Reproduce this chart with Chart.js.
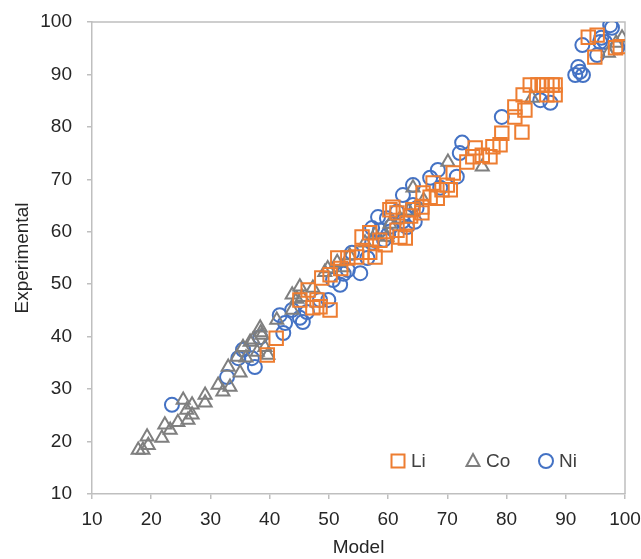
<!DOCTYPE html>
<html>
<head>
<meta charset="utf-8">
<script src="https://cdn.jsdelivr.net/npm/chart.js@4/dist/chart.umd.min.js"></script>
<style>
  html, body { margin: 0; padding: 0; background: #fff; }
  #wrap { width: 641px; height: 559px; }
</style>
</head>
<body>
<div id="wrap"><canvas id="scatter"></canvas></div>
<script>
// model vs experimental values, one pair of arrays per metal
var liModel = [39.6, 41.1, 45.1, 46.5, 47.3, 48.0, 48.5, 48.8, 50.2, 50.2, 51.5, 52.0, 53.2, 54.7, 55.6, 55.6, 56.9, 56.9, 57.8, 58.6, 59.5, 60.3, 60.8, 61.5, 61.5, 62.0, 62.9, 63.2, 63.8, 64.2, 65.7, 65.7, 65.9, 67.1, 68.3, 67.6, 69.1, 70.5, 70.0, 71.0, 73.3, 74.3, 74.7, 75.9, 77.2, 77.7, 78.9, 79.2, 82.6, 81.4, 81.4, 83.1, 82.8, 84.0, 85.3, 86.0, 86.8, 87.7, 88.2, 88.2, 86.8, 93.8, 95.3, 94.9, 99.2, 98.4];
var liExp   = [36.5, 39.7, 47.0, 48.9, 45.5, 47.0, 45.7, 51.2, 51.8, 45.1, 55.0, 53.0, 55.0, 55.2, 56.1, 59.0, 56.1, 59.8, 55.2, 58.4, 57.5, 64.2, 64.7, 63.6, 60.3, 59.0, 58.8, 61.7, 63.0, 64.2, 64.7, 63.6, 67.4, 66.6, 66.4, 69.3, 68.0, 68.0, 68.9, 71.2, 73.3, 74.3, 76.0, 74.6, 74.3, 76.2, 76.6, 78.8, 79.0, 81.9, 83.8, 83.2, 86.1, 88.0, 88.0, 88.0, 88.0, 88.0, 88.0, 86.1, 86.1, 97.1, 97.5, 93.3, 95.3, 95.1];

var coModel = [17.8, 18.6, 19.3, 19.5, 21.8, 22.3, 23.2, 24.5, 25.4, 26.0, 26.2, 26.9, 26.9, 29.1, 29.1, 31.3, 32.1, 33.3, 33.0, 35.0, 34.5, 35.5, 36.0, 36.7, 37.9, 37.2, 38.4, 38.7, 38.5, 39.2, 39.7, 41.2, 43.8, 43.8, 44.6, 45.1, 45.5, 47.3, 49.3, 49.8, 51.4, 52.3, 53.5, 56.1, 57.8, 59.8, 60.3, 62.0, 63.5, 64.2, 66.0, 70.1, 75.9, 84.3, 97.2, 98.5, 99.5];
var coExp   = [18.4, 18.4, 20.9, 19.3, 20.7, 23.2, 22.2, 23.7, 27.9, 26.0, 24.1, 27.0, 25.1, 28.9, 27.4, 30.8, 29.5, 30.4, 34.2, 33.1, 36.1, 38.0, 36.0, 39.0, 37.1, 39.4, 41.7, 40.3, 40.8, 38.0, 36.5, 43.2, 45.1, 48.0, 47.2, 49.5, 47.5, 49.3, 52.3, 53.0, 54.2, 53.2, 55.5, 57.9, 59.5, 59.0, 61.5, 62.5, 64.0, 68.4, 66.0, 73.3, 72.4, 85.5, 94.1, 96.0, 97.0];

var niModel = [23.5, 32.8, 34.7, 35.5, 37.0, 37.5, 38.4, 41.7, 42.3, 42.6, 43.8, 45.1, 45.6, 46.3, 48.5, 49.9, 50.7, 51.9, 52.5, 53.2, 53.9, 55.3, 56.5, 57.3, 57.3, 58.3, 58.6, 59.3, 59.8, 60.0, 60.5, 61.5, 62.5, 62.5, 63.2, 64.2, 64.2, 64.5, 64.8, 67.1, 68.4, 68.8, 71.6, 72.1, 72.5, 79.2, 85.7, 87.4, 91.6, 92.1, 92.4, 92.9, 92.8, 95.3, 95.8, 96.6, 97.5, 97.8, 98.7, 96.0];
var niExp   = [27.0, 32.3, 35.9, 37.5, 35.9, 34.2, 39.9, 44.1, 40.7, 42.6, 45.1, 43.6, 42.8, 44.7, 47.0, 47.0, 50.8, 49.9, 52.0, 52.7, 56.0, 52.1, 55.0, 57.9, 60.7, 62.8, 60.3, 58.5, 62.6, 59.5, 61.0, 63.8, 67.0, 62.0, 60.9, 65.1, 68.9, 61.9, 64.5, 70.3, 71.8, 68.4, 70.5, 75.0, 77.0, 81.9, 85.1, 84.6, 89.9, 91.4, 90.5, 89.9, 95.6, 93.7, 96.2, 96.2, 99.4, 98.9, 95.2, 97.0];

var axisTicks = [10, 20, 30, 40, 50, 60, 70, 80, 90, 100];

function pairs(xs, ys) {
  return xs.map(function(x, i) { return { x: x, y: ys[i] }; });
}

var FONT = "'Liberation Sans', Arial, sans-serif";
var FSIZE = 19;
var AXIS = '#bfbfbf';

// excel-style legend sitting inside the bottom right of the plot
var innerLegend = {
  id: 'innerLegend',
  afterDatasetsDraw: function(chart) {
    var ctx = chart.ctx, area = chart.chartArea;
    var y = area.bottom - 33;
    var items = [
      { dx: -227, label: 'Li', ds: 0 },
      { dx: -152, label: 'Co', ds: 1 },
      { dx: -79,  label: 'Ni', ds: 2 }
    ];
    ctx.save();
    items.forEach(function(it) {
      var ds = chart.data.datasets[it.ds];
      var x = area.right + it.dx;
      ctx.strokeStyle = ds.borderColor;
      ctx.lineWidth = ds.borderWidth;
      ctx.beginPath();
      if (ds.pointStyle === 'rect') {
        ctx.rect(x - 6.5, y - 6.5, 13, 13);
      } else if (ds.pointStyle === 'triangle') {
        ctx.moveTo(x, y - 7);
        ctx.lineTo(x + 6.5, y + 5);
        ctx.lineTo(x - 6.5, y + 5);
        ctx.closePath();
      } else {
        ctx.arc(x, y, 7, 0, Math.PI * 2);
      }
      ctx.stroke();
      ctx.fillStyle = '#404040';
      ctx.font = FSIZE + 'px ' + FONT;
      ctx.textBaseline = 'middle';
      ctx.textAlign = 'left';
      ctx.fillText(it.label, x + 13, y + 1);
    });
    ctx.restore();
  }
};

// thin frame along the top and right of the plot
var plotFrame = {
  id: 'plotFrame',
  beforeDatasetsDraw: function(chart) {
    var ctx = chart.ctx, a = chart.chartArea;
    ctx.save();
    ctx.strokeStyle = AXIS;
    ctx.lineWidth = 1.5;
    ctx.beginPath();
    ctx.moveTo(a.left, a.top);
    ctx.lineTo(a.right, a.top);
    ctx.lineTo(a.right, a.bottom);
    ctx.stroke();
    ctx.restore();
  }
};

function axis(title) {
  return {
    type: 'linear',
    min: 10,
    max: 100,
    afterBuildTicks: function(scale) {
      scale.ticks = axisTicks.map(function(v) { return { value: v }; });
    },
    grid: { drawOnChartArea: false, drawTicks: true, tickLength: 5, color: AXIS, lineWidth: 1.5 },
    border: { color: AXIS, width: 1.5 },
    ticks: { color: '#262626', font: { family: FONT, size: FSIZE }, padding: 9, maxRotation: 0 },
    title: { display: true, text: title, color: '#262626', font: { family: FONT, size: FSIZE }, padding: { top: 7, bottom: 0 } }
  };
}

// fixed axis bands so the plot box lands where it should
var xScale = axis('Model');
xScale.afterFit = function(scale) {
  scale.height = 65;
  scale.paddingLeft = 0;
  scale.paddingRight = 0;
};
var yScale = axis('Experimental');
yScale.ticks.padding = 15;
yScale.title.padding = { top: 11, bottom: 0 };
yScale.afterFit = function(scale) {
  scale.width = 92;
  scale.paddingTop = 0;
  scale.paddingBottom = 0;
};

new Chart(document.getElementById('scatter'), {
  type: 'scatter',
  data: {
    datasets: [
      { label: 'Li', data: pairs(liModel, liExp), pointStyle: 'rect', pointRadius: 9.5,
        borderColor: '#ED7D31', backgroundColor: 'rgba(0,0,0,0)', borderWidth: 2 },
      { label: 'Co', data: pairs(coModel, coExp), pointStyle: 'triangle', pointRadius: 7.5,
        borderColor: '#7F7F7F', backgroundColor: 'rgba(0,0,0,0)', borderWidth: 2 },
      { label: 'Ni', data: pairs(niModel, niExp), pointStyle: 'circle', pointRadius: 7,
        borderColor: '#4472C4', backgroundColor: 'rgba(0,0,0,0)', borderWidth: 2 }
    ]
  },
  options: {
    responsive: true,
    maintainAspectRatio: false,
    animation: false,
    layout: { padding: { top: 22, right: 16, left: 0, bottom: 0 } },
    plugins: {
      legend: { display: false },
      tooltip: { enabled: false }
    },
    scales: { x: xScale, y: yScale }
  },
  plugins: [plotFrame, innerLegend]
});
</script>
</body>
</html>
